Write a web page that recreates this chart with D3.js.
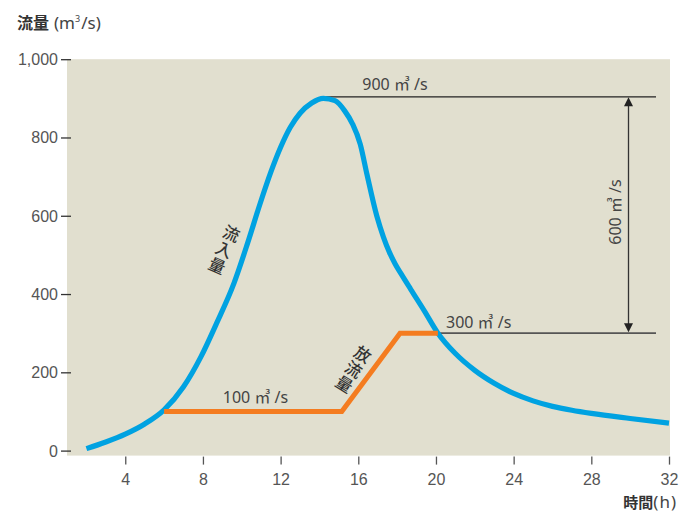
<!DOCTYPE html>
<html><head><meta charset="utf-8">
<script src="https://cdn.jsdelivr.net/npm/d3@7"></script>
<style>
html,body{margin:0;padding:0;background:#fff;}
svg{display:block;font-family:"Noto Sans","Noto Sans CJK JP",sans-serif;}
</style></head>
<body>
<svg id="c" width="681" height="515"></svg>
<script>
// ---- data ----
const inflowHours = [2,3,4,5,6,7,7.9,8.7,9.6,10.3,10.95,11.5,12,12.5,13,13.6,14.2,14.8,15.3,15.7,16.1,16.45,16.95,17.3,17.6,17.9,18.2,18.7,19.4,20.1,21,22,23,24,25,26,27,28,30,32];
const inflowValues = [5,22,42,68,104,163,240,325,428,530,632,712,775,826,862,888,900,894,868,835,783,705,600,545,507,477,452,412,357,300,248,205,172,146,127,113,103,95,82,70];
const outflowHours = [6,15.15,18.15,20.1];
const outflowValues = [100,100,300,300];
const xTicks = [4,8,12,16,20,24,28,32];
const yTicks = [0,200,400,600,800,1000];
const peakValue = 900;
const releaseValue = 300;
const baseValue = 100;
const diffValue = peakValue - releaseValue;

const svg = d3.select("#c");
const x = d3.scaleLinear().domain([1,32]).range([67,669]);
const y = d3.scaleLinear().domain([0,1000]).range([450.6,59.2]);

// background
svg.append("rect").attr("x",x(1)).attr("y",y(1000))
  .attr("width",x(32)-x(1)+1).attr("height",y(0)-y(1000)+5)
  .attr("fill","#e1dfcf");

// y axis ticks
const yAxis = d3.axisLeft(y).tickValues(yTicks).tickSize(10).tickPadding(3)
  .tickFormat(d3.format(","));
const gy = svg.append("g").attr("transform",`translate(${x(1)+4},0)`).call(yAxis);
gy.select(".domain").remove();
gy.selectAll(".tick line").attr("stroke","#333").attr("stroke-width",1.3);
gy.selectAll(".tick text").attr("fill","#555").attr("font-size",16).attr("dy","0.34em");

// x axis ticks
const xAxis = d3.axisBottom(x).tickValues(xTicks).tickSize(8).tickPadding(6);
const gx = svg.append("g").attr("transform",`translate(0,${y(0)+6})`).call(xAxis);
gx.select(".domain").remove();
gx.selectAll(".tick line").attr("stroke","#555").attr("stroke-width",1.3);
gx.selectAll(".tick text").attr("fill","#555").attr("font-size",16).attr("dy","0.9em");

// reference lines
svg.append("line").attr("x1",x(14.2)).attr("x2",656).attr("y1",y(peakValue)-1.5).attr("y2",y(peakValue)-1.5)
  .attr("stroke","#222").attr("stroke-width",1.2);
svg.append("line").attr("x1",x(20.1)).attr("x2",656).attr("y1",y(releaseValue)).attr("y2",y(releaseValue))
  .attr("stroke","#555").attr("stroke-width",1.8);

// double arrow
const ax = 628.5, aTop = y(peakValue)-1, aBot = y(releaseValue)-1;
svg.append("line").attr("x1",ax).attr("x2",ax).attr("y1",aTop+6).attr("y2",aBot-6)
  .attr("stroke","#333").attr("stroke-width",1.3);
svg.append("path").attr("d",`M${ax},${aTop} L${ax-4.5},${aTop+9} L${ax+4.5},${aTop+9}Z`).attr("fill","#222");
svg.append("path").attr("d",`M${ax},${aBot} L${ax-4.5},${aBot-9} L${ax+4.5},${aBot-9}Z`).attr("fill","#222");

// lines
const inflowLine = d3.line().x(d=>x(d[0])).y(d=>y(d[1])).curve(d3.curveMonotoneX);
svg.append("path").datum(inflowHours.map((h,i)=>[h,inflowValues[i]]))
  .attr("d",inflowLine)
  .attr("fill","none").attr("stroke","#00a2e1").attr("stroke-width",5.2).attr("stroke-linecap","butt");
const outflowLine = d3.line().x(d=>x(d[0])).y(d=>y(d[1]));
svg.append("path").datum(outflowHours.map((h,i)=>[h,outflowValues[i]]))
  .attr("d",outflowLine)
  .attr("fill","none").attr("stroke","#f47c20").attr("stroke-width",5).attr("stroke-linejoin","miter");

// annotation texts
const ann = svg.append("g").attr("fill","#444").attr("font-size",16);
ann.append("text").attr("x",395).attr("y",90).attr("text-anchor","middle").text(`${peakValue} ㎥ /s`);
ann.append("text").attr("x",446).attr("y",328).text(`${releaseValue} ㎥ /s`);
ann.append("text").attr("x",255.5).attr("y",403).attr("text-anchor","middle").text(`${baseValue} ㎥ /s`);
ann.append("text").attr("transform","translate(621,212) rotate(-90)").attr("text-anchor","middle").text(`${diffValue} ㎥ /s`);

// vertical Japanese labels
function vlabel(txt, cx, cy, ang){
  const g = svg.append("g").attr("transform",`translate(${cx},${cy}) rotate(${ang})`);
  [...txt].forEach((ch,i)=>{
    g.append("text").attr("x",0).attr("y",(i-1)*17.5).attr("dy","0.36em")
      .attr("text-anchor","middle").attr("font-size",16.5).attr("font-weight",500)
      .attr("font-family","'Noto Sans CJK JP',sans-serif").attr("fill","#333").text(ch);
  });
}
vlabel("流入量", 224, 250, 24);
vlabel("放流量", 353.5, 369.5, 32);

// titles
const t1 = svg.append("text").attr("x",17).attr("y",29).attr("fill","#333");
t1.append("tspan").attr("font-weight",700).attr("font-size",16)
  .attr("font-family","'Noto Sans CJK JP',sans-serif").text("流量");
t1.append("tspan").attr("fill","#444").attr("font-size",17).attr("dx",5).text("(m");
t1.append("tspan").attr("fill","#444").attr("font-size",9).attr("dy",-7).text("3");
t1.append("tspan").attr("fill","#444").attr("font-size",17).attr("dy",7).attr("dx",1).text("/s)");
const t2 = svg.append("text").attr("x",677).attr("y",508).attr("text-anchor","end").attr("fill","#333");
t2.append("tspan").attr("font-weight",700).attr("font-size",15)
  .attr("font-family","'Noto Sans CJK JP',sans-serif").text("時間");
t2.append("tspan").attr("fill","#444").attr("font-size",17).attr("letter-spacing",1).text("(h)");
</script>
</body></html>
